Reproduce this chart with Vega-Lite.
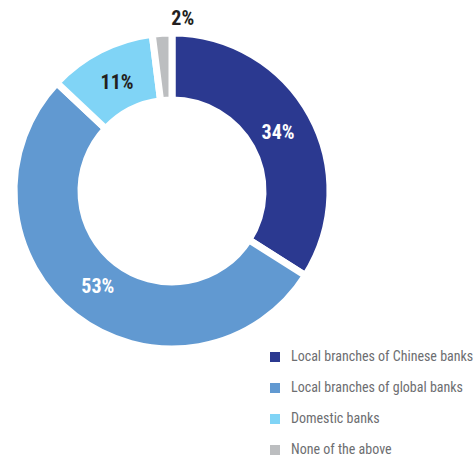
{
  "$schema": "https://vega.github.io/schema/vega-lite/v6.json",
  "width": 336,
  "height": 382,
  "padding": 0,
  "background": "white",
  "data": {"values": [
    {"cat": "Local branches of Chinese banks", "value": 34, "label": "34%", "ord": 1},
    {"cat": "Local branches of global banks", "value": 53, "label": "53%", "ord": 2},
    {"cat": "Domestic banks", "value": 11, "label": "11%", "ord": 3},
    {"cat": "None of the above", "value": 2, "label": "2%", "ord": 4}
  ]},
  "encoding": {
    "theta": {"field": "value", "type": "quantitative", "stack": true},
    "order": {"field": "ord", "type": "quantitative"}
  },
  "layer": [
    {
      "mark": {"type": "arc", "outerRadius": 158, "innerRadius": 91, "stroke": "white", "strokeWidth": 7},
      "encoding": {
        "color": {
          "field": "cat", "type": "nominal",
          "sort": ["Local branches of Chinese banks", "Local branches of global banks", "Domestic banks", "None of the above"],
          "scale": {
            "domain": ["Local branches of Chinese banks", "Local branches of global banks", "Domestic banks", "None of the above"],
            "range": ["#2b3990", "#6199d1", "#80d4f6", "#bcbec0"]
          },
          "legend": {
            "title": null,
            "orient": "none",
            "legendX": 264,
            "legendY": 350,
            "symbolType": "square",
            "symbolSize": 100,
            "symbolStrokeWidth": 0,
            "labelFont": "Roboto Condensed, DejaVu Sans Condensed, sans-serif",
            "labelFontSize": 14,
            "labelColor": "#6d6e71",
            "labelOffset": 9,
            "labelLimit": 0,
            "rowPadding": 17
          }
        }
      }
    },
    {
      "transform": [{"filter": "datum.value > 5"}],
      "mark": {"type": "text", "radius": 121, "font": "Roboto Condensed, DejaVu Sans Condensed, sans-serif", "fontWeight": "bold", "fontSize": 20},
      "encoding": {
        "text": {"field": "label"},
        "color": {
          "condition": {"test": "datum.ord == 3", "value": "#231f20"},
          "value": "white"
        }
      }
    },
    {
      "transform": [{"filter": "datum.value <= 5"}],
      "mark": {"type": "text", "radius": 172, "font": "Roboto Condensed, DejaVu Sans Condensed, sans-serif", "fontWeight": "bold", "fontSize": 20, "color": "#231f20"},
      "encoding": {"text": {"field": "label"}}
    }
  ]
}
